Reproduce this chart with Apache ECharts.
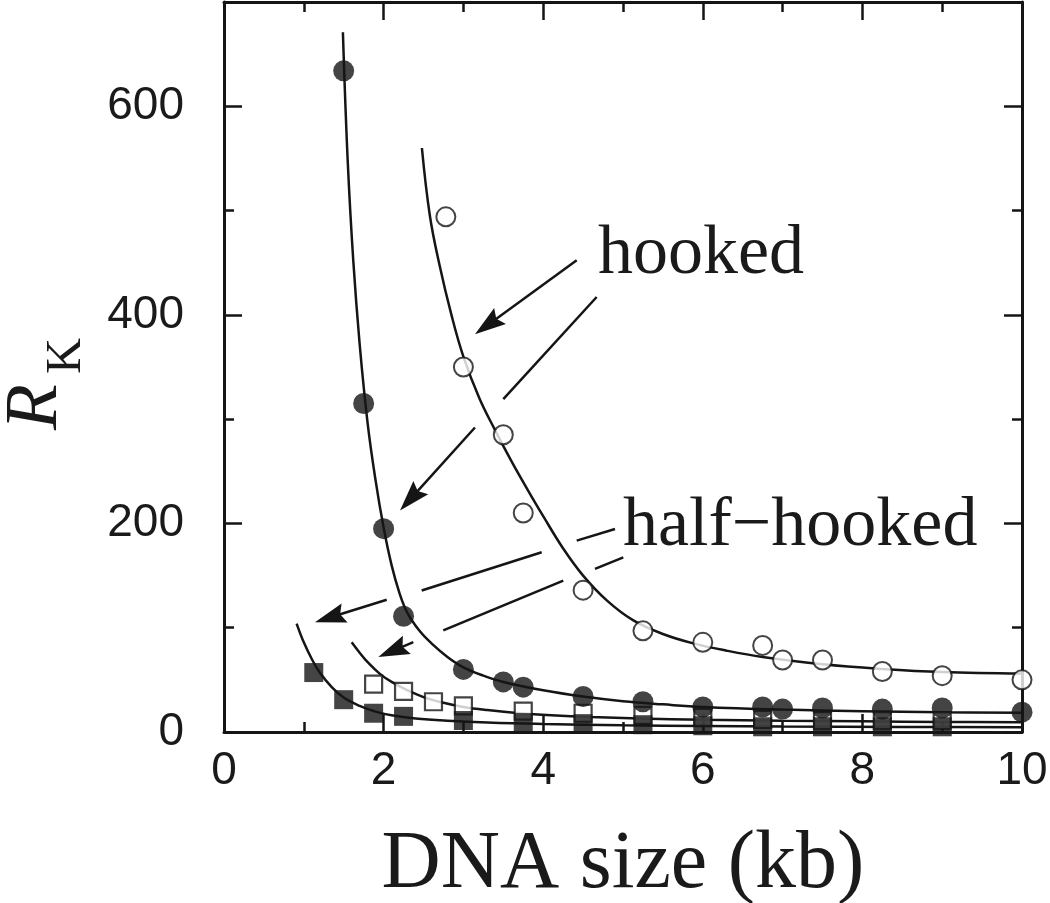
<!DOCTYPE html>
<html><head><meta charset="utf-8">
<script src="https://cdn.jsdelivr.net/npm/echarts@6/dist/echarts.min.js"></script>
<style>html,body{margin:0;padding:0;background:#fff}#c{width:1050px;height:903px}</style>
</head><body><div id="c"></div><script>
// ---- tick labels ----
const xTickLabels = [0, 2, 4, 6, 8, 10];
const yTickLabels = [0, 200, 400, 600];

// ---- data points ----
const hookedFilledX = [1.5, 1.75, 2.0, 2.25, 3.0, 3.5, 3.75, 4.5, 5.25, 6.0, 6.75, 7.0, 7.5, 8.25, 9.0, 10.0];
const hookedFilledY = [634, 315, 195, 111, 60, 48, 43, 34, 29, 24, 24, 22, 23, 22, 23, 19];

const hookedOpenX = [2.78, 3.0, 3.5, 3.75, 4.5, 5.25, 6.0, 6.75, 7.0, 7.5, 8.25, 9.0, 10.0];
const hookedOpenY = [494, 350, 285, 210, 136, 97, 86, 83, 69, 69, 58, 54, 50];

const halfFilledX = [1.125, 1.5, 1.875, 2.25, 3.0, 3.75, 4.5, 5.25, 6.0, 6.75, 7.5, 8.25, 9.0];
const halfFilledY = [57, 31, 18, 15, 11, 9, 8, 7, 6, 5, 5, 5, 5];

const halfOpenX = [1.875, 2.25, 2.625, 3.0, 3.75, 4.5, 5.25, 6.0, 6.75, 7.5, 8.25, 9.0];
const halfOpenY = [46, 39, 29, 25, 20, 18, 16, 14, 12, 11, 11, 11];

// ---- fitted curves ----
const hookedFilledCurveX = [1.49, 1.55, 1.62, 1.7, 1.8, 1.9, 2.0, 2.1, 2.2, 2.3, 2.45, 2.6, 2.8, 3.0, 3.25, 3.5, 4.0, 4.5, 5.0, 5.5, 6.0, 7.0, 8.0, 9.0, 10.0];
const hookedFilledCurveY = [671, 548, 452, 372, 296, 241, 196, 160, 133, 114, 97, 85, 72, 62, 54, 48, 40, 34, 29.5, 26.5, 24, 21.5, 20, 19, 18.5];

const hookedOpenCurveX = [2.48, 2.58, 2.7, 2.85, 3.0, 3.2, 3.4, 3.6, 3.8, 4.0, 4.25, 4.5, 4.8, 5.13, 5.5, 5.88, 6.3, 6.75, 7.5, 8.25, 9.0, 10.0];
const hookedOpenCurveY = [560, 495, 448, 400, 360, 320, 289, 260, 233, 207, 176, 150, 126, 107, 94, 85, 78, 72, 65, 60.5, 57.5, 56];

const halfOpenCurveX = [1.6, 1.7, 1.8, 1.95, 2.1, 2.3, 2.5, 2.75, 3.0, 3.3, 3.7, 4.1, 4.6, 5.2, 6.0, 7.0, 8.0, 9.0, 10.0];
const halfOpenCurveY = [86, 76, 67, 56, 48, 40, 33.5, 28, 24, 21, 18, 16, 14.3, 13, 11.8, 10.8, 10.2, 9.7, 9.3];

const halfFilledCurveX = [0.91, 1.0, 1.1, 1.2, 1.35, 1.5, 1.7, 1.9, 2.1, 2.4, 2.8, 3.3, 4.0, 5.0, 6.0, 7.0, 8.5, 10.0];
const halfFilledCurveY = [104, 86, 70, 57, 43, 33, 25, 19.5, 16, 13, 10.8, 9, 7.6, 6.4, 5.7, 5.2, 4.8, 4.5];

// ---- annotations (data coordinates) ----
const hookedLabel = {text: 'hooked', x: 4.687, y: 435.3};
const halfLabel = {text: 'half\u2212hooked', x: 5.0, y: 174};
const arrows = [
  {segs: [[[4.420, 452.3], [3.145, 381.4]]]},
  {segs: [[[4.670, 417.1], [3.500, 319.2]], [[3.145, 292.0], [2.206, 212.3]]]},
  {segs: [[[4.900, 194.7], [4.420, 183.5]], [[3.981, 172.3], [2.477, 135.7]], [[2.039, 126.8], [1.140, 105.3]]]},
  {segs: [[[5.004, 167.5], [4.649, 156.4]], [[4.252, 145.2], [2.748, 97.4]], [[2.372, 86.2], [1.934, 71.8]]]}
];

const ink = '#151515';
const pairs = (xs, ys) => xs.map((x, i) => [x, ys[i]]);

function axisCommon(showLabel) {
  return {
    axisLine: {show: true, onZero: false, lineStyle: {color: ink, width: 3}},
    axisTick: {show: true, inside: true, length: 18, lineStyle: {color: ink, width: 2.5}},
    minorTick: {show: true, splitNumber: 2, length: 10, lineStyle: {color: ink, width: 2.5}},
    splitLine: {show: false},
    axisLabel: {show: showLabel, color: '#1a1a1a', fontFamily: 'Liberation Sans', fontSize: 46}
  };
}

const chart = echarts.init(document.getElementById('c'), null, {renderer: 'canvas'});
const xa0 = Object.assign(axisCommon(true), {
  type: 'value', min: 0, max: 10, interval: 2, position: 'bottom',
  name: 'DNA size (kb)', nameLocation: 'middle', nameGap: 92,
  nameTextStyle: {fontFamily: 'Liberation Serif', fontSize: 82, color: '#1a1a1a'}
});
xa0.axisLabel.margin = 16;
xa0.axisLabel.formatter = v => (xTickLabels.indexOf(v) >= 0 ? String(v) : '');
const xa1 = Object.assign(axisCommon(false), {type: 'value', min: 0, max: 10, interval: 2, position: 'top'});
const ya0 = Object.assign(axisCommon(true), {type: 'value', min: 0, max: 700, interval: 200, position: 'left'});
ya0.axisLabel.margin = 40;
ya0.axisLabel.formatter = v => (yTickLabels.indexOf(v) >= 0 ? String(v) : '');
const ya1 = Object.assign(axisCommon(false), {type: 'value', min: 0, max: 700, interval: 200, position: 'right'});

const lineSeries = (xs, ys) => ({
  type: 'line', data: pairs(xs, ys), showSymbol: false, smooth: 0.4,
  lineStyle: {color: ink, width: 2.5}, z: 2, silent: true
});

chart.setOption({
  animation: false,
  backgroundColor: '#fff',
  grid: {left: 224, right: 28, top: 2, bottom: 171, containLabel: false, outerBoundsMode: 'none'},
  xAxis: [xa0, xa1],
  yAxis: [ya0, ya1],
  series: [
    lineSeries(hookedFilledCurveX, hookedFilledCurveY),
    lineSeries(hookedOpenCurveX, hookedOpenCurveY),
    lineSeries(halfOpenCurveX, halfOpenCurveY),
    lineSeries(halfFilledCurveX, halfFilledCurveY),
    {type: 'scatter', data: pairs(halfOpenX, halfOpenY), symbol: 'rect', symbolSize: 17,
     itemStyle: {color: '#fff', borderColor: ink, borderWidth: 2.2}, z: 4},
    {type: 'scatter', data: pairs(halfFilledX, halfFilledY), symbol: 'rect', symbolSize: 19,
     itemStyle: {color: ink}, z: 5},
    {type: 'scatter', data: pairs(hookedOpenX, hookedOpenY), symbol: 'circle', symbolSize: 19,
     itemStyle: {color: '#fff', borderColor: ink, borderWidth: 2}, z: 4},
    {type: 'scatter', data: pairs(hookedFilledX, hookedFilledY), symbol: 'circle', symbolSize: 21,
     itemStyle: {color: ink}, z: 5}
  ]
});

// ---- annotations & y-axis title ----
const toPx = p => chart.convertToPixel({gridIndex: 0}, p);
const g = [];
arrows.forEach(a => {
  a.segs.forEach((s, i) => {
    const p0 = toPx(s[0]), p1 = toPx(s[1]);
    const last = i === a.segs.length - 1;
    let end = p1;
    if (last) {
      const dx = p1[0] - p0[0], dy = p1[1] - p0[1], L = Math.hypot(dx, dy);
      const ux = dx / L, uy = dy / L, nx = -uy, ny = ux;
      const HL = 31, HW = 10;
      const bx = p1[0] - HL * ux, by = p1[1] - HL * uy;
      g.push({type: 'polygon', shape: {points: [p1, [bx + HW * nx, by + HW * ny], [p1[0] - HL * 0.85 * ux, p1[1] - HL * 0.85 * uy], [bx - HW * nx, by - HW * ny]]},
        style: {fill: ink}, z: 10});
      end = [p1[0] - HL * 0.8 * ux, p1[1] - HL * 0.8 * uy];
    }
    if (Math.hypot(end[0] - p0[0], end[1] - p0[1]) > 1)
      g.push({type: 'line', shape: {x1: p0[0], y1: p0[1], x2: end[0], y2: end[1]},
        style: {stroke: ink, lineWidth: 2.5}, z: 10});
  });
});
[hookedLabel, halfLabel].forEach(l => {
  const p = toPx([l.x, l.y]);
  g.push({type: 'text', x: p[0], y: p[1] - 0.3375 * 70, z: 10,
    style: {text: l.text, font: '70px "Liberation Serif"', fill: '#1a1a1a', align: 'left', verticalAlign: 'middle'}});
});
g.push({type: 'group', x: 36, y: 430, rotation: Math.PI / 2, children: [
  {type: 'text', x: 0, y: 0, style: {text: 'R', font: 'italic 75px "Liberation Serif"', fill: '#1a1a1a', align: 'left', verticalAlign: 'middle'}},
  {type: 'text', x: 56, y: 31, style: {text: 'K', font: '50px "Liberation Serif"', fill: '#1a1a1a', align: 'left', verticalAlign: 'middle'}}
]});
chart.setOption({graphic: g});
</script></body></html>
